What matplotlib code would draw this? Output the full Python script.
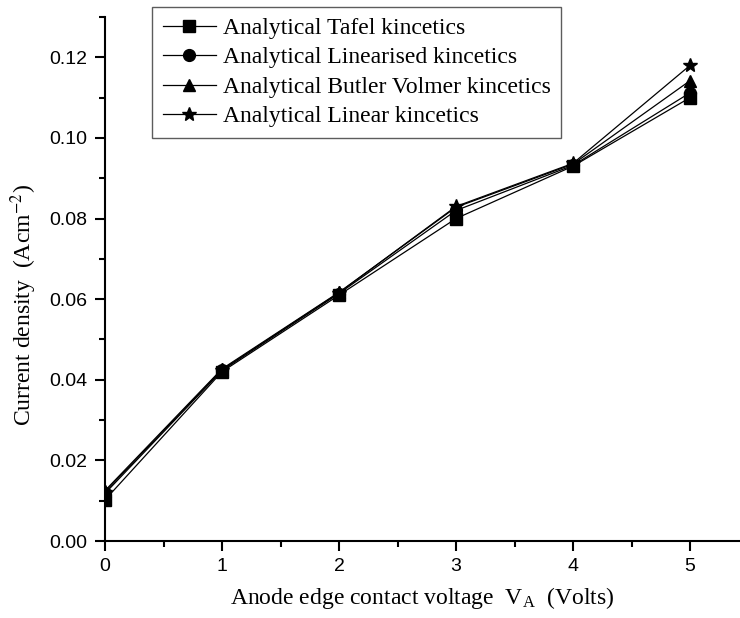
import matplotlib
matplotlib.use("Agg")
import matplotlib.pyplot as plt
from matplotlib.ticker import MultipleLocator

plt.rcParams['font.family'] = ['Liberation Serif', 'DejaVu Serif']
plt.rcParams['mathtext.fontset'] = 'stix'

# anode edge contact voltage (V)
voltage = [0, 1, 2, 3, 4, 5]

# current density (A cm^-2)
tafel = [0.0102, 0.0420, 0.0610, 0.0800, 0.0930, 0.1100]
linearised = [0.0118, 0.0423, 0.0614, 0.0820, 0.0932, 0.1112]
butler_volmer = [0.0125, 0.0427, 0.0617, 0.0828, 0.0935, 0.1142]
linear = [0.0122, 0.0425, 0.0616, 0.0830, 0.0937, 0.1180]

labels = ["Analytical Tafel kincetics",
          "Analytical Linearised kincetics",
          "Analytical Butler Volmer kincetics",
          "Analytical Linear kincetics"]
markers = ['s', 'o', '^', '*']
sizes = [8, 8.5, 8.5, 10]

fig = plt.figure(figsize=(7.4, 6.18), dpi=100)
ax = fig.add_axes([105/740, 77/618, 635/740, 524/618])

for ys, lab, m, ms in zip([tafel, linearised, butler_volmer, linear], labels, markers, sizes):
    ax.plot(voltage, ys, color='black', lw=0.9, marker=m, ms=ms,
            markerfacecolor='black', markeredgecolor='black', label=lab)

ax.set_xlim(0, 5.427)
ax.set_ylim(0, 0.13)
ax.xaxis.set_major_locator(MultipleLocator(1))
ax.xaxis.set_minor_locator(MultipleLocator(0.5))
ax.yaxis.set_major_locator(MultipleLocator(0.02))
ax.yaxis.set_minor_locator(MultipleLocator(0.01))
ax.yaxis.set_major_formatter(matplotlib.ticker.FormatStrFormatter('%.2f'))

for side in ['top', 'right']:
    ax.spines[side].set_visible(False)
for side in ['left', 'bottom']:
    ax.spines[side].set_linewidth(1.5)

ax.tick_params(which='major', direction='out', length=7.5, width=1.5,
               labelsize=14, labelfontfamily='Liberation Sans', pad=5)
ax.tick_params(which='minor', direction='out', length=4, width=1.5)

ax.set_xlabel(r"Anode edge contact voltage  V$\mathregular{_A}$  (Volts)", fontsize=17, labelpad=7)
ax.set_ylabel(r"Current density  (Acm$^{-2}$)", fontsize=17)
ax.yaxis.set_label_coords(-0.104, 0.45)

leg = ax.legend(loc='upper left', bbox_to_anchor=(152/740, 1 - 7/618),
                bbox_transform=fig.transFigure, fontsize=17, frameon=True,
                fancybox=False, handlelength=2.25, handletextpad=0.3,
                labelspacing=0.33, borderpad=0.45, borderaxespad=0)
leg.get_frame().set_edgecolor('#333333')
leg.get_frame().set_linewidth(1.0)

fig.savefig("out.png", dpi=100)
